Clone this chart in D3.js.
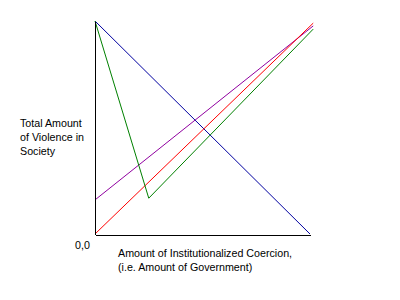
<!DOCTYPE html>
<html><head><meta charset="utf-8">
<script src="https://cdn.jsdelivr.net/npm/d3@7"></script>
<style>body{margin:0;background:#fff}svg{display:block}text{font-family:"Liberation Sans",Arial,sans-serif;font-size:10.7px;fill:#000}</style>
</head><body>
<script>
// Data (x: amount of government, y: amount of violence), arbitrary units 0..10
const xAxisLabel = ["Amount of Institutionalized Coercion,", "(i.e. Amount of Government)"];
const yAxisLabel = ["Total Amount", "of Violence in", "Society"];
const originLabel = "0,0";
const blueLine   = [[0, 10], [10, 0]];
const greenLine  = [[0, 10], [2.5, 1.68], [10.15, 9.62]];
const redLine    = [[0, 0], [10.15, 9.9]];
const purpleLine = [[0, 1.6], [10.15, 9.77]];
const series = [
  {name: "blue", color: "#0000a0", pts: blueLine},
  {name: "purple", color: "#9000a0", pts: purpleLine},
  {name: "red", color: "#ff0000", pts: redLine},
  {name: "green", color: "#008000", pts: greenLine}
];

const W = 400, H = 300;
const svg = d3.select("body").append("svg").attr("width", W).attr("height", H);
const x = d3.scaleLinear().domain([0, 10]).range([95, 310]);
const y = d3.scaleLinear().domain([0, 10]).range([234, 21]);

const line = d3.line().x(d => x(d[0])).y(d => y(d[1]));
svg.selectAll("path.s").data(series).join("path")
  .attr("class", "s")
  .attr("d", d => line(d.pts))
  .attr("fill", "none")
  .attr("stroke", d => d.color)
  .attr("stroke-width", 1);

// axes (no ticks)
const gx = svg.append("g").attr("transform", `translate(0,${y(0)+0.5})`)
  .call(d3.axisBottom(x).ticks(0).tickSizeOuter(0));
const gy = svg.append("g").attr("transform", `translate(${x(0)-0.5},0)`)
  .call(d3.axisLeft(y).ticks(0).tickSizeOuter(0));
svg.selectAll(".domain").attr("stroke", "#000").attr("shape-rendering", "crispEdges");

svg.append("text").attr("x", 75).attr("y", 249).text(originLabel);
svg.append("g").selectAll("text").data(xAxisLabel).join("text")
  .attr("x", 118).attr("y", (d, i) => 257 + i * 14).text(d => d);
svg.append("g").selectAll("text").data(yAxisLabel).join("text")
  .attr("x", 20).attr("y", (d, i) => 127 + i * 14).text(d => d);
</script>
</body></html>
